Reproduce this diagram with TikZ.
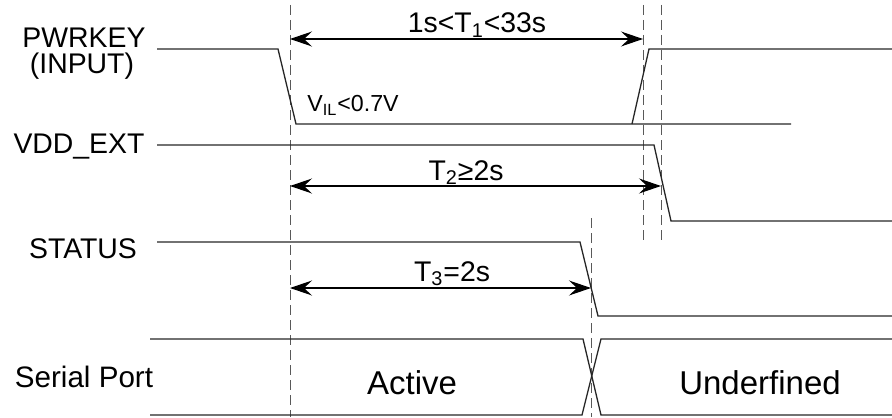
\documentclass[tikz,border=0pt]{standalone}
\usepackage{fontspec}
\setmainfont{Liberation Sans}
\usetikzlibrary{arrows.meta}

\begin{document}
\begin{tikzpicture}[x=0.5pt,y=-0.5pt,
  sig/.style={line width=0.65pt, black!85},
  guide/.style={line width=0.5pt, gray!70!black, dash pattern=on 5pt off 2.5pt},
  span/.style={line width=0.6pt, {Stealth[length=11pt,width=7.5pt,inset=4pt]}-{Stealth[length=11pt,width=7.5pt,inset=4pt]}},
  signame/.style={anchor=base, font=\fontsize{14.2}{16}\selectfont},
  note/.style={anchor=base, font=\fontsize{14.2}{16}\selectfont},
  state/.style={anchor=base, font=\fontsize{16.5}{18}\selectfont}]
\useasboundingbox (0,0) rectangle (892,417);

% time marks
\coordinate (a0) at (290,5);   \coordinate (a1) at (290,417);
\coordinate (b0) at (643,5);   \coordinate (b1) at (643,241);
\coordinate (c0) at (661,5);   \coordinate (c1) at (661,241);
\coordinate (d0) at (591,218); \coordinate (d1) at (591,417);
\draw[guide] (a0) -- (a1);
\draw[guide] (b0) -- (b1);
\draw[guide] (c0) -- (c1);
\draw[guide] (d0) -- (d1);

% signal names
\node[signame] (pwrkey) at (84,48) {PWRKEY};
\node[signame] (input) at (82,74) {(INPUT)};
\node[signame] (vddext) at (79,153) {VDD\_EXT};
\node[signame] (status) at (83,258) {STATUS};
\node[signame, font=\fontsize{14.8}{16}\selectfont] (serial) at (84,387) {Serial Port};

% waveforms
\draw[sig] (157,49) -- (278,49) -- (296,124) -- (791,124);
\draw[sig] (632,124) -- (649,49) -- (892,49);
\draw[sig] (157,145) -- (654,145) -- (671,221) -- (892,221);
\draw[sig] (157,242) -- (580,242) -- (598,316) -- (892,316);
\draw[sig] (150,339) -- (583,339) -- (601,415) -- (892,415);
\draw[sig] (150,415) -- (582,415) -- (601,339) -- (892,339);

% timings
\coordinate (t1l) at (290,39);  \coordinate (t1r) at (643,39);
\coordinate (t2l) at (290,186); \coordinate (t2r) at (661,186);
\coordinate (t3l) at (290,288); \coordinate (t3r) at (591,288);
\draw[span] (t1l) -- (t1r);
\draw[span] (t2l) -- (t2r);
\draw[span] (t3l) -- (t3r);
\node[note] (t1) at (477,33) {1s<T\textsubscript{1}<33s};
\node[note] (t2) at (466,180) {T\textsubscript{2}≥2s};
\node[note] (t3) at (452,281) {T\textsubscript{3}=2s};
\node[anchor=base west, inner sep=0pt, font=\fontsize{11.6}{13}\selectfont] (vil) at (307,112) {V\textsubscript{IL}<0.7V};

\node[state] (active) at (412,394) {Active};
\node[state] (undef) at (760,394) {Underfined};
\end{tikzpicture}
\end{document}
